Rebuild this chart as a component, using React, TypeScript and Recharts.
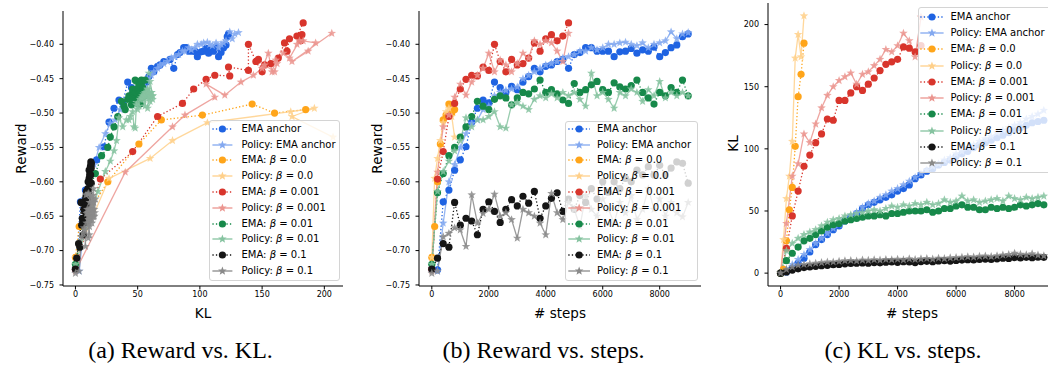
import React from "react";
import { LineChart, Line, XAxis, YAxis } from "recharts";

// evaluation steps
const stepsLong = [0, 200, 400, 600, 800, 1000, 1200, 1400, 1600, 1800, 2000, 2200, 2400, 2600, 2800, 3000, 3200, 3400, 3600, 3800, 4000, 4200, 4400, 4600, 4800, 5000, 5200, 5400, 5600, 5800, 6000, 6200, 6400, 6600, 6800, 7000, 7200, 7400, 7600, 7800, 8000, 8200, 8400, 8600, 8800, 9000];
const stepsMid = [0, 200, 400, 600, 800, 1000, 1200, 1400, 1600, 1800, 2000, 2200, 2400, 2600, 2800, 3000, 3200, 3400, 3600, 3800, 4000, 4200, 4400, 4600, 4800];
const stepsShort = [0, 100, 200, 300, 400, 500, 600, 700, 800];

// EMA anchor
const emaAnchorReward = [-0.727, -0.728, -0.629, -0.612, -0.583, -0.568, -0.549, -0.513, -0.493, -0.481, -0.485, -0.455, -0.463, -0.47, -0.461, -0.466, -0.455, -0.447, -0.435, -0.44, -0.432, -0.43, -0.425, -0.422, -0.435, -0.415, -0.412, -0.405, -0.405, -0.41, -0.41, -0.41, -0.418, -0.411, -0.41, -0.406, -0.413, -0.408, -0.41, -0.404, -0.418, -0.412, -0.405, -0.401, -0.389, -0.385];
const emaAnchorKL = [0, 1, 4, 8, 12, 17, 23, 27, 31, 35, 38, 42, 45, 48, 52, 55, 57, 59, 61, 63, 66, 68, 71, 76, 79, 82, 84, 87, 89, 91, 94, 96, 98, 101, 103, 105, 107, 109, 111, 113, 115, 117, 119, 121, 122, 123];
const polAnchorReward = [-0.727, -0.73, -0.66, -0.6, -0.575, -0.55, -0.53, -0.515, -0.51, -0.495, -0.49, -0.475, -0.47, -0.467, -0.465, -0.462, -0.45, -0.445, -0.44, -0.435, -0.43, -0.428, -0.425, -0.42, -0.418, -0.415, -0.41, -0.41, -0.405, -0.408, -0.405, -0.4, -0.4, -0.398, -0.397, -0.4, -0.402, -0.398, -0.405, -0.4, -0.398, -0.395, -0.382, -0.392, -0.385, -0.383];
const polAnchorKL = [0, 3, 7, 11, 15, 19, 24, 28, 32, 36, 39, 43, 46, 49, 53, 56, 58, 61, 63, 66, 68, 71, 74, 77, 80, 83, 86, 88, 91, 93, 96, 98, 101, 103, 106, 108, 110, 113, 115, 117, 119, 121, 124, 126, 128, 131];

// beta = 0.0
const ema0Reward = [-0.71, -0.665, -0.6, -0.545, -0.51, -0.503, -0.487, -0.5, -0.495];
const ema0KL = [0, 3, 26, 51, 69, 102, 142, 160, 185];
const pol0Reward = [-0.71, -0.595, -0.566, -0.54, -0.514, -0.498, -0.493, -0.505, -0.535];
const pol0KL = [0, 27, 60, 78, 106, 173, 192, 174, 207];

// beta = 0.001
const ema001Reward = [-0.727, -0.596, -0.556, -0.505, -0.486, -0.465, -0.451, -0.445, -0.446, -0.433, -0.438, -0.4, -0.425, -0.44, -0.422, -0.43, -0.428, -0.42, -0.398, -0.41, -0.392, -0.386, -0.395, -0.388, -0.369];
const ema001KL = [0, 20, 46, 66, 86, 95, 105, 112, 124, 123, 139, 139, 145, 150, 147, 152, 157, 163, 168, 170, 172, 182, 181, 178, 183];
const pol001Reward = [-0.73, -0.586, -0.52, -0.503, -0.477, -0.458, -0.474, -0.455, -0.445, -0.435, -0.413, -0.44, -0.423, -0.43, -0.44, -0.428, -0.413, -0.42, -0.395, -0.4, -0.395, -0.398, -0.41, -0.425, -0.384];
const pol001KL = [0, 40, 78, 88, 112, 105, 120, 133, 143, 150, 155, 158, 161, 152, 160, 162, 167, 172, 180, 178, 183, 193, 187, 174, 206];

// beta = 0.01
const ema01Reward = [-0.72, -0.616, -0.588, -0.562, -0.55, -0.535, -0.52, -0.505, -0.483, -0.49, -0.495, -0.48, -0.475, -0.478, -0.488, -0.478, -0.47, -0.472, -0.465, -0.452, -0.47, -0.466, -0.472, -0.481, -0.486, -0.457, -0.47, -0.466, -0.459, -0.454, -0.466, -0.47, -0.456, -0.462, -0.465, -0.46, -0.452, -0.47, -0.478, -0.487, -0.47, -0.475, -0.463, -0.47, -0.452, -0.475];
const ema01KL = [0, 10, 16, 21, 26, 28, 31, 34, 37, 39, 40, 42, 43, 44, 45, 46, 46, 47, 46, 48, 48, 49, 50, 50, 50, 51, 49, 50, 52, 52, 54, 55, 53, 53, 51, 51, 53, 52, 53, 52, 53, 55, 54, 55, 56, 55];
const pol01Reward = [-0.72, -0.614, -0.585, -0.57, -0.555, -0.54, -0.507, -0.52, -0.51, -0.51, -0.505, -0.498, -0.52, -0.522, -0.488, -0.485, -0.49, -0.495, -0.48, -0.475, -0.478, -0.472, -0.478, -0.47, -0.475, -0.47, -0.48, -0.49, -0.442, -0.475, -0.47, -0.48, -0.493, -0.47, -0.475, -0.465, -0.47, -0.483, -0.466, -0.475, -0.454, -0.478, -0.47, -0.475, -0.47, -0.475];
const pol01KL = [0, 18, 24, 28, 31, 33, 35, 38, 41, 43, 44, 46, 47, 48, 49, 50, 51, 50, 52, 54, 53, 55, 54, 56, 55, 57, 55, 56, 59, 57, 58, 62, 58, 59, 57, 58, 59, 60, 58, 62, 60, 59, 61, 60, 61, 62];

// beta = 0.1
const ema1Reward = [-0.727, -0.711, -0.69, -0.695, -0.63, -0.663, -0.653, -0.657, -0.677, -0.64, -0.629, -0.643, -0.659, -0.64, -0.626, -0.635, -0.621, -0.631, -0.614, -0.653, -0.635, -0.624, -0.616, -0.643, -0.625, -0.64, -0.62, -0.63, -0.61, -0.625, -0.6, -0.615, -0.6, -0.61, -0.595, -0.6, -0.583, -0.59, -0.578, -0.59, -0.576, -0.59, -0.58, -0.571, -0.573, -0.602];
const ema1KL = [0, 1, 2.5, 3.5, 4.5, 5, 5.5, 6, 6.3, 6.8, 7, 7.5, 7.8, 8, 8.2, 8, 8.5, 8.3, 8.8, 9, 8.7, 9.2, 9, 8.5, 9.3, 9.5, 9.2, 9.8, 10, 9.7, 10.2, 10.5, 10.8, 10.6, 11, 11.3, 11, 11.5, 12, 11.8, 12.5, 12.2, 12.7, 12.4, 12.8, 12.7];
const pol1Reward = [-0.733, -0.73, -0.68, -0.675, -0.667, -0.67, -0.694, -0.619, -0.66, -0.646, -0.64, -0.618, -0.65, -0.645, -0.655, -0.682, -0.64, -0.645, -0.65, -0.66, -0.677, -0.617, -0.645, -0.655, -0.63, -0.64, -0.665, -0.62, -0.64, -0.65, -0.625, -0.64, -0.66, -0.63, -0.645, -0.62, -0.655, -0.64, -0.61, -0.64, -0.625, -0.65, -0.63, -0.645, -0.651, -0.63];
const pol1KL = [0, 3, 5, 6.5, 7, 7.5, 8, 8.5, 9, 9, 9.5, 10, 10.2, 9.8, 10.5, 10.3, 10.8, 10.5, 11, 10.8, 11.2, 10.7, 11.5, 11, 11.5, 11.8, 11.3, 12, 11.7, 12.3, 12.5, 12.8, 13.2, 12.9, 13.5, 13.8, 13.4, 14, 14.5, 15, 16, 15.2, 14.8, 15.5, 14.5, 14];

const rewardTicks = [-0.75, -0.7, -0.65, -0.6, -0.55, -0.5, -0.45, -0.4];
const klTicksA = [0, 50, 100, 150, 200];
const stepTicks = [0, 2000, 4000, 6000, 8000];
const klTicksC = [0, 50, 100, 150, 200];

// EMA colour, policy colour (the same hue, lighter)
const BLUE = ["#1f63e2", "#84a9f0"];
const ORANGE = ["#ffa51a", "#ffd08a"];
const RED = ["#d8352c", "#eb958f"];
const GREEN = ["#17894a", "#86c3a0"];
const BLACK = ["#151515", "#8a8a8a"];

type Series = { name: string; color: string; policy: boolean; steps: number[]; kl: number[]; reward: number[] };

const series: Series[] = [
  { name: "EMA anchor", color: BLUE[0], policy: false, steps: stepsLong, kl: emaAnchorKL, reward: emaAnchorReward },
  { name: "Policy: EMA anchor", color: BLUE[1], policy: true, steps: stepsLong, kl: polAnchorKL, reward: polAnchorReward },
  { name: "EMA: β = 0.0", color: ORANGE[0], policy: false, steps: stepsShort, kl: ema0KL, reward: ema0Reward },
  { name: "Policy: β = 0.0", color: ORANGE[1], policy: true, steps: stepsShort, kl: pol0KL, reward: pol0Reward },
  { name: "EMA: β = 0.001", color: RED[0], policy: false, steps: stepsMid, kl: ema001KL, reward: ema001Reward },
  { name: "Policy: β = 0.001", color: RED[1], policy: true, steps: stepsMid, kl: pol001KL, reward: pol001Reward },
  { name: "EMA: β = 0.01", color: GREEN[0], policy: false, steps: stepsLong, kl: ema01KL, reward: ema01Reward },
  { name: "Policy: β = 0.01", color: GREEN[1], policy: true, steps: stepsLong, kl: pol01KL, reward: pol01Reward },
  { name: "EMA: β = 0.1", color: BLACK[0], policy: false, steps: stepsLong, kl: ema1KL, reward: ema1Reward },
  { name: "Policy: β = 0.1", color: BLACK[1], policy: true, steps: stepsLong, kl: pol1KL, reward: pol1Reward },
];

const pts = (xs: number[], ys: number[]) => xs.map((x, i) => ({ x, y: ys[i] }));

function starPath(cx: number, cy: number, R: number, r: number) {
  let d = "";
  for (let i = 0; i < 10; i++) {
    const a = -Math.PI / 2 + (i * Math.PI) / 5;
    const rad = i % 2 ? r : R;
    d += (i ? "L" : "M") + (cx + rad * Math.cos(a)).toFixed(2) + "," + (cy + rad * Math.sin(a)).toFixed(2);
  }
  return d + "Z";
}

const makeDot = (color: string, policy: boolean) => (props: any) => {
  const { cx, cy, index } = props;
  if (cx == null || cy == null) return <g key={index} />;
  if (policy) return <path key={index} d={starPath(cx, cy, 4.5, 1.9)} fill={color} fillOpacity={0.85} />;
  return <circle key={index} cx={cx} cy={cy} r={3.6} fill={color} />;
};

const fmtReward = (v: number) => (v < 0 ? "\u2212" : "") + Math.abs(v).toFixed(2);
const tickStyle = { fill: "#000", fontSize: 8, fontFamily: "DejaVu Sans" };

type PanelProps = {
  left: number;
  top: number;
  width: number;
  marginTop: number;
  height: number;
  xDomain: [number, number];
  yDomain: [number, number];
  xTicks: number[];
  yTicks: number[];
  yFmt?: (v: number) => string;
  getX: (s: Series) => number[];
  getY: (s: Series) => number[];
};

function Panel({ left, top, width, marginTop, height, xDomain, yDomain, xTicks, yTicks, yFmt, getX, getY }: PanelProps) {
  return (
    <div style={{ position: "absolute", left, top }}>
      <LineChart width={width} height={height} margin={{ top: marginTop, right: 5, bottom: 0, left: 0 }}>
        <XAxis dataKey="x" type="number" domain={xDomain} ticks={xTicks} allowDataOverflow
          stroke="#000" tick={tickStyle} tickSize={3.5} tickMargin={2} height={30} />
        <XAxis xAxisId="top" orientation="top" type="number" domain={xDomain} allowDataOverflow
          stroke="#000" tick={false} tickLine={false} height={0} />
        <YAxis type="number" domain={yDomain} ticks={yTicks} allowDataOverflow tickFormatter={yFmt}
          stroke="#000" tick={tickStyle} tickSize={3.5} tickMargin={5.5} width={63} />
        <YAxis yAxisId="right" orientation="right" type="number" domain={yDomain} allowDataOverflow
          stroke="#000" tick={false} tickLine={false} width={0} />
        {series.map((s) => (
          <Line key={s.name} data={pts(getX(s), getY(s))} dataKey="y" type="linear"
            stroke={s.color} strokeWidth={1.3} strokeOpacity={s.policy ? 0.85 : 1}
            strokeDasharray={s.policy ? undefined : "1.3 2.2"}
            dot={makeDot(s.color, s.policy)} activeDot={false} isAnimationActive={false} />
        ))}
      </LineChart>
    </div>
  );
}

function Label({ name }: { name: string }) {
  const parts = name.split("β");
  if (parts.length < 2) return <>{name}</>;
  return (
    <>
      {parts[0]}
      <i>β</i>
      {parts[1]}
    </>
  );
}

type LegendProps = { left: number; top: number; width: number; height: number; first: number; gap: number; x1: number; x2: number; textX: number };

function LegendBox({ left, top, width, height, first, gap, x1, x2, textX }: LegendProps) {
  const mx = (x1 + x2) / 2;
  return (
    <div style={{ position: "absolute", left, top, width, height, boxSizing: "border-box", border: "1px solid #d4d4d4",
      borderRadius: 3, background: "rgba(255,255,255,0.8)", zIndex: 2 }}>
      {series.map((s, i) => (
        <div key={s.name} style={{ position: "absolute", left: 0, top: first + i * gap - 7, height: 14, width: 200 }}>
          <svg width={textX} height={14} style={{ position: "absolute", left: -1, top: 0 }}>
            <line x1={x1} x2={x2} y1={7} y2={7} stroke={s.color} strokeWidth={1.3}
              strokeDasharray={s.policy ? undefined : "1.3 2.2"} />
            {s.policy ? (
              <path d={starPath(mx, 7, 4.5, 1.9)} fill={s.color} />
            ) : (
              <circle cx={mx} cy={7} r={3.6} fill={s.color} />
            )}
          </svg>
          <span style={{ position: "absolute", left: textX - 1, top: 0, lineHeight: "14px", fontSize: 10,
            fontFamily: "DejaVu Sans", color: "#000", whiteSpace: "nowrap" }}>
            <Label name={s.name} />
          </span>
        </div>
      ))}
    </div>
  );
}

export default function App() {
  return (
    <div style={{ position: "fixed", left: 0, top: 0, width: 1048, height: 367, overflow: "hidden", background: "#fff" }}>
      <Panel left={0} top={0} width={348} marginTop={11} height={316} xDomain={[-10, 215]} yDomain={[-0.7515, -0.3516]}
        xTicks={klTicksA} yTicks={rewardTicks} yFmt={fmtReward} getX={(s) => s.kl} getY={(s) => s.reward} />
      <Panel left={356} top={0} width={350} marginTop={11} height={316} xDomain={[-450, 9450]} yDomain={[-0.7515, -0.3516]}
        xTicks={stepTicks} yTicks={rewardTicks} yFmt={fmtReward} getX={(s) => s.steps} getY={(s) => s.reward} />
      <Panel left={705} top={0} width={357} marginTop={3} height={316} xDomain={[-430, 9450]} yDomain={[-10.35, 217.35]}
        xTicks={stepTicks} yTicks={klTicksC} getX={(s) => s.steps} getY={(s) => s.kl} />

      <LegendBox left={208.5} top={120} width={131.5} height={161} first={7.7} gap={15.8} x1={3.4} x2={23.4} textX={33} />
      <LegendBox left={565} top={121} width={133} height={160} first={6.7} gap={15.8} x1={3.3} x2={25} textX={32} />
      <LegendBox left={917.5} top={7.3} width={136} height={166} first={8.4} gap={16.3} x1={2.3} x2={25.6} textX={33} />

      <svg width={1048} height={367} style={{ position: "absolute", left: 0, top: 0, pointerEvents: "none", zIndex: 3 }}>
        <g fontFamily="DejaVu Sans" fontSize={13.5} fill="#000">
          <text transform="translate(21,148.5) rotate(-90)" textAnchor="middle" dominantBaseline="central">Reward</text>
          <text transform="translate(377,148.5) rotate(-90)" textAnchor="middle" dominantBaseline="central">Reward</text>
          <text transform="translate(733,143.5) rotate(-90)" textAnchor="middle" dominantBaseline="central">KL</text>
          <text x={203} y={318} textAnchor="middle">KL</text>
          <text x={560} y={318} textAnchor="middle"># steps</text>
          <text x={912} y={318} textAnchor="middle"># steps</text>
        </g>
        <g fontFamily="Liberation Serif" fontSize={24} fill="#000">
          <text x={180.5} y={358} textAnchor="middle">(a) Reward vs. KL.</text>
          <text x={543.5} y={358} textAnchor="middle">(b) Reward vs. steps.</text>
          <text x={903} y={358} textAnchor="middle">(c) KL vs. steps.</text>
        </g>
      </svg>
    </div>
  );
}
